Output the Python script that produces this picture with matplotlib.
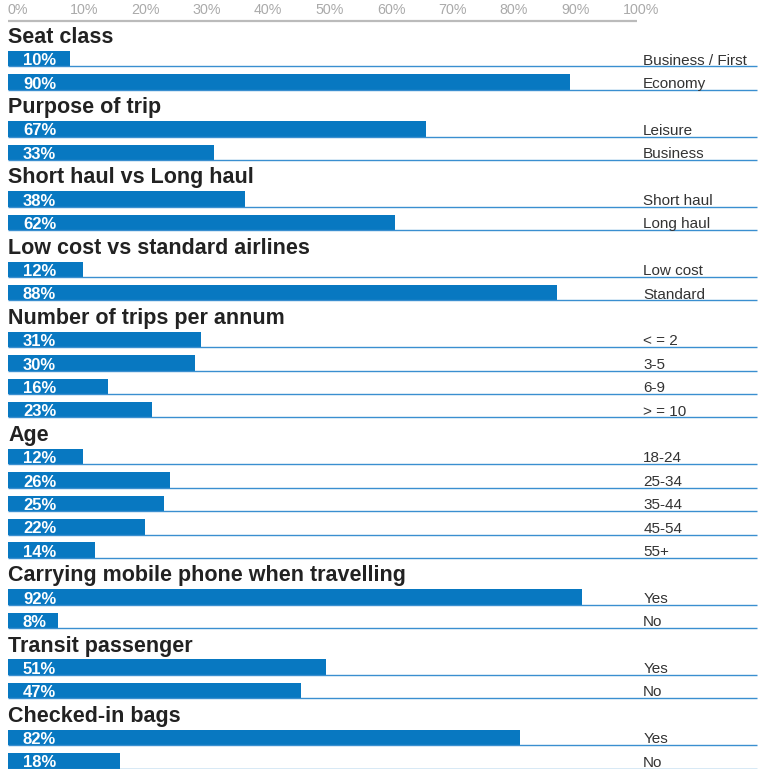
import matplotlib
matplotlib.use('Agg')
import matplotlib.pyplot as plt

# ---------------------------------------------------------------------- #
# Survey breakdown (percent of respondents)
# ---------------------------------------------------------------------- #
group_titles = [
    "Seat class",
    "Purpose of trip",
    "Short haul vs Long haul",
    "Low cost vs standard airlines",
    "Number of trips per annum",
    "Age",
    "Carrying mobile phone when travelling",
    "Transit passenger",
    "Checked-in bags",
]
item_labels = [
    ["Business / First", "Economy"],
    ["Leisure", "Business"],
    ["Short haul", "Long haul"],
    ["Low cost", "Standard"],
    ["< = 2", "3-5", "6-9", "> = 10"],
    ["18-24", "25-34", "35-44", "45-54", "55+"],
    ["Yes", "No"],
    ["Yes", "No"],
    ["Yes", "No"],
]
item_values = [
    [10, 90],
    [67, 33],
    [38, 62],
    [12, 88],
    [31, 30, 16, 23],
    [12, 26, 25, 22, 14],
    [92, 8],
    [51, 47],
    [82, 18],
]
scale_ticks = [0, 10, 20, 30, 40, 50, 60, 70, 80, 90, 100]

BAR_COLOR = '#0878c1'
RULE_COLOR = '#3a8fd0'
FONT = 'Liberation Sans'

# geometry, in row units (one row per title or bar)
BAR_H = 0.66          # bar thickness as a fraction of the row pitch
LINE_END = 120.0      # rules run on under the category labels
LABEL_X = 101.8       # category labels sit right of the 100% mark

fig = plt.figure(figsize=(7.58, 7.69), dpi=100)
ax = fig.add_axes([0, 0, 1, 1])
ax.axis('off')
ax.set_xlim(-1.28, 120.19)
ax.set_ylim(31.68, -1.18)

# scale along the top
for v in scale_ticks:
    ax.text(v * 0.985, -0.58, f'{v}%', ha='left', va='baseline',
            fontsize=10.3, color='#aaaaaa', family=FONT)
ax.plot([0, 100.8], [-0.28, -0.28], color='#bbbbbb', lw=1.6,
        solid_capstyle='butt')

row = 0
for title, labels, values in zip(group_titles, item_labels, item_values):
    ax.text(0, row + 0.66, title, ha='left', va='baseline',
            fontsize=15.5, fontweight='bold', color='#222222', family=FONT)
    row += 1
    for lab, val in zip(labels, values):
        ax.barh(row + BAR_H / 2, val, height=BAR_H, left=0,
                color=BAR_COLOR, linewidth=0)
        ax.plot([0, LINE_END], [row + BAR_H, row + BAR_H],
                color=RULE_COLOR, lw=1.0, solid_capstyle='butt')
        ax.text(2.4, row + BAR_H - 0.05, f'{val}%', ha='left', va='baseline',
                fontsize=12, fontweight='bold', color='white', family=FONT)
        ax.text(LABEL_X, row + BAR_H - 0.08, lab, ha='left', va='baseline',
                fontsize=11, color='#333333', family=FONT)
        row += 1

fig.savefig('out.png', dpi=100)
